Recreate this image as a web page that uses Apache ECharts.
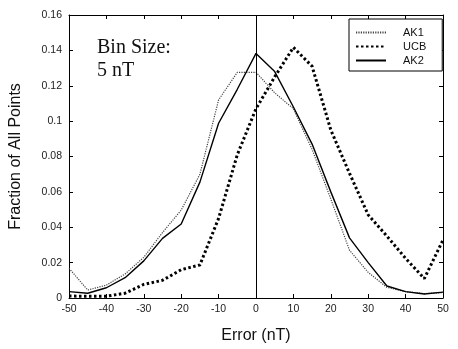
<!DOCTYPE html>
<html>
<head>
<meta charset="utf-8">
<script src="https://cdn.jsdelivr.net/npm/echarts@6/dist/echarts.min.js"></script>
<style>
html,body{margin:0;padding:0;background:#fff;}
#chart{width:458px;height:349px;}
</style>
</head>
<body>
<div id="chart"></div>
<script>
var errors = [-50,-45,-40,-35,-30,-25,-20,-15,-10,-5,0,5,10,15,20,25,30,35,40,45,50];
var ak1 = [0.0168,0.0045,0.0073,0.0136,0.0230,0.0370,0.0497,0.0700,0.1120,0.1276,0.1276,0.1160,0.1070,0.0840,0.0560,0.0270,0.0145,0.0060,0.0036,0.0025,0.0030];
var ucb = [0.0011,0.0010,0.0010,0.0027,0.0077,0.0100,0.0160,0.0187,0.0450,0.0810,0.1070,0.1250,0.1417,0.1310,0.0950,0.0705,0.0470,0.0350,0.0224,0.0110,0.0328];
var ak2 = [0.0036,0.0027,0.0058,0.0115,0.0210,0.0337,0.0418,0.0655,0.0988,0.1180,0.1383,0.1280,0.1080,0.0870,0.0600,0.0340,0.0200,0.0068,0.0036,0.0023,0.0033];
var seriesNames = ['AK1','UCB','AK2'];
var binText = ['Bin Size:', '5 nT'];

function pairs(v){ return errors.map(function(x,i){ return [x, v[i]]; }); }

var font = 'Liberation Sans, Arial, sans-serif';
function axisCommon(){
  return {
    axisLine:{show:true, onZero:false, lineStyle:{color:'#000', width:1}},
    axisTick:{show:true, inside:true, length:4, lineStyle:{color:'#000'}},
    splitLine:{show:false}
  };
}

var chart = echarts.init(document.getElementById('chart'), null, {renderer:'canvas'});
chart.setOption({
  animation:false,
  backgroundColor:'#fff',
  grid:{left:67, right:15, top:15, bottom:51, show:false},
  legend:{
    data:seriesNames,
    orient:'vertical',
    left:349, top:19,
    padding:[8,16,5,6],
    itemGap:3,
    itemWidth:30,
    itemHeight:10,
    borderColor:'#000', borderWidth:1,
    backgroundColor:'#fff',
    itemStyle:{opacity:0, borderWidth:0},
    textStyle:{fontFamily:font, fontSize:11, color:'#111', padding:[0,0,0,12], lineHeight:10}
  },
  xAxis:[
    Object.assign({type:'value', min:-50, max:50, interval:10, position:'bottom',
      name:'Error (nT)', nameLocation:'middle', nameGap:30,
      nameTextStyle:{fontFamily:font, fontSize:16, color:'#111'},
      axisLabel:{fontFamily:font, fontSize:10.5, color:'#222', margin:6}}, axisCommon()),
    Object.assign({type:'value', min:-50, max:50, interval:10, position:'top',
      axisLabel:{show:false}}, axisCommon())
  ],
  yAxis:[
    Object.assign({type:'value', min:0, max:0.16, interval:0.02, position:'left',
      name:'Fraction of All Points', nameLocation:'middle', nameGap:45,
      nameTextStyle:{fontFamily:font, fontSize:16, color:'#111'},
      axisLabel:{fontFamily:font, fontSize:10.5, color:'#222', margin:7}}, axisCommon()),
    Object.assign({type:'value', min:0, max:0.16, interval:0.02, position:'right',
      axisLabel:{show:false}}, axisCommon())
  ],
  series:[
    {name:seriesNames[0], type:'line', data:pairs(ak1), showSymbol:false, symbol:'none',
      lineStyle:{color:'#444', width:1.2, type:[1.2,1.2]}, itemStyle:{color:'#444'}, z:3},
    {name:seriesNames[1], type:'line', data:pairs(ucb), showSymbol:false, symbol:'none',
      lineStyle:{color:'#000', width:3, type:[2.5,2.5]}, itemStyle:{color:'#000'}, z:2},
    {name:seriesNames[2], type:'line', data:pairs(ak2), showSymbol:false, symbol:'none',
      lineStyle:{color:'#000', width:1.4, type:'solid'}, itemStyle:{color:'#000'}, z:4,
      markLine:{silent:true, symbol:'none', label:{show:false},
        lineStyle:{color:'#000', width:1, type:'solid'},
        data:[{xAxis:0}]}}
  ],
  graphic:[
    {type:'text', left:97, top:38, style:{text:binText[0], font:'20px "Liberation Serif", "Times New Roman", serif', fill:'#111'}},
    {type:'text', left:97, top:61, style:{text:binText[1], font:'20px "Liberation Serif", "Times New Roman", serif', fill:'#111'}}
  ]
});
</script>
</body>
</html>
